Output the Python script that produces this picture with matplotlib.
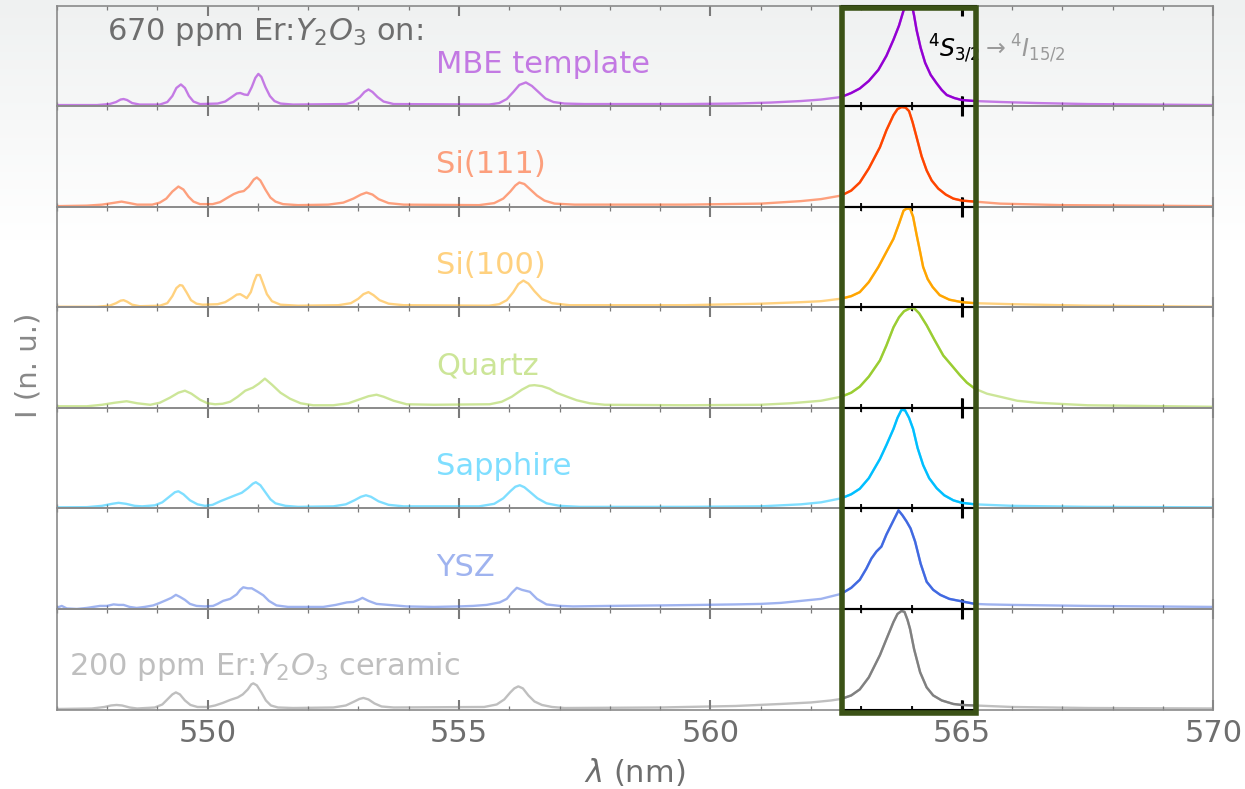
import numpy as np
import matplotlib
matplotlib.use("Agg")
import matplotlib.pyplot as plt
from matplotlib.patches import Rectangle
from matplotlib.ticker import MultipleLocator

# ---------------------------------------------------------------- data
labels = ["MBE template", "Si(111)", "Si(100)", "Quartz", "Sapphire", "YSZ",
          "200 ppm Er:$Y_2O_3$ ceramic"]
colors = ["darkviolet", "orangered", "orange", "yellowgreen", "deepskyblue",
          "royalblue", "gray"]

mbe_nm = [547.0, 547.8, 548.05, 548.18, 548.27, 548.33, 548.4, 548.5, 548.65,
          549.05, 549.2, 549.3, 549.38, 549.47, 549.55, 549.63, 549.72, 549.85,
          550.2, 550.35, 550.48, 550.58, 550.65, 550.73, 550.8, 550.88, 550.95, 551.01,
          551.07, 551.15, 551.24, 551.33, 551.45, 551.7,
          552.75, 552.9, 553.03, 553.12, 553.2, 553.28, 553.38, 553.5, 553.7,
          555.6, 555.8, 555.95, 556.08, 556.2, 556.33, 556.45, 556.58, 556.72, 556.88, 557.1,
          557.5, 559.5, 560.5, 561.2, 561.8, 562.2, 562.6, 562.8, 562.97, 563.15, 563.34,
          563.5, 563.64, 563.75, 563.84, 563.9, 564.0, 564.05, 564.1, 564.18, 564.27,
          564.38, 564.5, 564.6, 564.7, 564.85, 565.0, 565.26, 565.8, 566.5, 567.5, 570.0]
mbe_int = [0.01, 0.01, 0.02, 0.04, 0.065, 0.07, 0.06, 0.03, 0.015,
           0.015, 0.04, 0.1, 0.18, 0.215, 0.18, 0.1, 0.045, 0.02,
           0.025, 0.045, 0.09, 0.125, 0.13, 0.115, 0.11, 0.19, 0.28, 0.32,
           0.29, 0.19, 0.1, 0.05, 0.025, 0.015,
           0.02, 0.04, 0.09, 0.14, 0.165, 0.14, 0.09, 0.045, 0.02,
           0.015, 0.03, 0.07, 0.14, 0.21, 0.235, 0.2, 0.14, 0.075, 0.04, 0.025,
           0.02, 0.02, 0.025, 0.035, 0.05, 0.065, 0.09, 0.13, 0.175, 0.25, 0.36,
           0.5, 0.66, 0.8, 0.95, 1.02, 1.02, 0.9, 0.755, 0.58, 0.43,
           0.31, 0.225, 0.16, 0.11, 0.08, 0.06, 0.05, 0.04, 0.03, 0.02, 0.01]

si111_nm = [547.0, 547.6, 547.9, 548.1, 548.29, 548.45, 548.6, 548.9,
            549.05, 549.18, 549.3, 549.42, 549.52, 549.62, 549.72, 549.85,
            550.1, 550.25, 550.4, 550.52, 550.62, 550.72, 550.82, 550.92, 550.98, 551.05,
            551.15, 551.25, 551.35, 551.5, 551.8,
            552.4, 552.7, 552.9, 553.05, 553.16, 553.28, 553.4, 553.6, 553.9,
            555.4, 555.7, 555.88, 556.02, 556.12, 556.2, 556.3, 556.42, 556.55, 556.7,
            556.9, 557.3, 559.5, 561.0, 561.8, 562.2, 562.6, 562.8, 562.97, 563.15,
            563.37, 563.5, 563.64, 563.72, 563.8, 563.88, 563.95, 564.02, 564.1, 564.2,
            564.3, 564.4, 564.53, 564.68, 564.83, 565.0, 565.26, 565.76, 567.0, 570.0]
si111_int = [0.005, 0.01, 0.02, 0.035, 0.05, 0.035, 0.02, 0.02,
             0.04, 0.08, 0.15, 0.2, 0.17, 0.1, 0.05, 0.025,
             0.025, 0.045, 0.09, 0.125, 0.145, 0.155, 0.2, 0.27, 0.29, 0.26,
             0.17, 0.09, 0.05, 0.025, 0.015,
             0.02, 0.04, 0.08, 0.12, 0.14, 0.12, 0.075, 0.035, 0.02,
             0.015, 0.035, 0.08, 0.15, 0.21, 0.24, 0.225, 0.17, 0.11, 0.06,
             0.03, 0.02, 0.02, 0.03, 0.055, 0.075, 0.11, 0.16, 0.24, 0.38,
             0.59, 0.76, 0.91, 0.97, 0.99, 0.985, 0.95, 0.84, 0.69, 0.5,
             0.36, 0.26, 0.18, 0.12, 0.08, 0.06, 0.05, 0.03, 0.015, 0.005]

si100_nm = [547.0, 547.8, 548.05, 548.18, 548.27, 548.33, 548.4, 548.5, 548.65,
            549.05, 549.2, 549.3, 549.38, 549.45, 549.5, 549.58, 549.67, 549.78, 549.9,
            550.2, 550.35, 550.48, 550.58, 550.65, 550.72, 550.78, 550.86, 550.93, 550.98,
            551.04, 551.1, 551.18, 551.28, 551.45, 551.8,
            552.6, 552.85, 553.0, 553.1, 553.2, 553.3, 553.42, 553.6, 553.9,
            555.6, 555.8, 555.95, 556.08, 556.18, 556.28, 556.38, 556.5, 556.65, 556.85, 557.2,
            559.5, 561.0, 561.8, 562.2, 562.6, 562.8, 562.97, 563.15, 563.34, 563.5,
            563.64, 563.75, 563.84, 563.9, 563.97, 564.03, 564.1, 564.17, 564.23, 564.32,
            564.42, 564.56, 564.75, 565.0, 565.26, 566.0, 567.5, 570.0]
si100_int = [0.005, 0.005, 0.015, 0.04, 0.065, 0.07, 0.055, 0.025, 0.01,
             0.015, 0.04, 0.11, 0.19, 0.22, 0.215, 0.15, 0.07, 0.035, 0.025,
             0.03, 0.05, 0.09, 0.125, 0.13, 0.11, 0.09, 0.15, 0.26, 0.32,
             0.32, 0.24, 0.13, 0.06, 0.025, 0.015,
             0.02, 0.04, 0.085, 0.13, 0.15, 0.12, 0.07, 0.035, 0.02,
             0.015, 0.03, 0.07, 0.15, 0.23, 0.265, 0.235, 0.16, 0.08, 0.04, 0.02,
             0.02, 0.035, 0.05, 0.06, 0.085, 0.11, 0.15, 0.25, 0.4, 0.55,
             0.68, 0.83, 0.96, 0.98, 0.98, 0.9, 0.72, 0.55, 0.4, 0.28,
             0.2, 0.12, 0.075, 0.05, 0.04, 0.03, 0.015, 0.005]

quartz_nm = [547.0, 547.6, 547.9, 548.15, 548.39, 548.6, 548.86, 549.05, 549.25, 549.42,
             549.55, 549.68, 549.85, 550.0, 550.15, 550.3, 550.45, 550.6, 550.75, 550.9,
             551.02, 551.14, 551.28, 551.45, 551.64, 551.85, 552.1, 552.5, 552.8, 553.0,
             553.2, 553.36, 553.5, 553.7, 553.96, 554.5, 555.61, 555.85, 556.05, 556.25,
             556.4, 556.5, 556.65, 556.8, 556.94, 557.15, 557.34, 557.6, 557.9,
             559.5, 561.0, 561.6, 562.2, 562.6, 562.8, 562.97, 563.15, 563.37, 563.5,
             563.64, 563.75, 563.85, 563.97, 564.05, 564.15, 564.3, 564.45, 564.63, 564.8,
             564.96, 565.1, 565.26, 565.5, 565.76, 566.1, 566.5, 567.5, 570.0]
quartz_int = [0.015, 0.015, 0.03, 0.05, 0.065, 0.045, 0.03, 0.05, 0.1, 0.15,
              0.17, 0.14, 0.08, 0.045, 0.035, 0.04, 0.06, 0.11, 0.17, 0.2,
              0.24, 0.29, 0.23, 0.15, 0.09, 0.045, 0.025, 0.025, 0.045, 0.08,
              0.115, 0.13, 0.11, 0.07, 0.035, 0.03, 0.035, 0.06, 0.11, 0.18,
              0.22, 0.225, 0.215, 0.19, 0.15, 0.11, 0.075, 0.045, 0.03,
              0.025, 0.03, 0.045, 0.07, 0.11, 0.15, 0.21, 0.31, 0.47, 0.62,
              0.8, 0.9, 0.96, 0.99, 0.99, 0.94, 0.82, 0.68, 0.52, 0.42,
              0.325, 0.25, 0.19, 0.14, 0.11, 0.07, 0.05, 0.025, 0.01]

sapphire_nm = [547.0, 547.6, 547.9, 548.1, 548.23, 548.38, 548.55, 548.7, 548.95, 549.1,
               549.25, 549.35, 549.42, 549.52, 549.65, 549.8, 549.95, 550.1, 550.25, 550.4,
               550.55, 550.68, 550.8, 550.9, 550.96, 551.05, 551.15, 551.25, 551.35, 551.55,
               551.8, 552.5, 552.75, 552.92, 553.05, 553.15, 553.25, 553.4, 553.6, 553.9,
               555.4, 555.7, 555.88, 556.02, 556.12, 556.21, 556.3, 556.42, 556.56, 556.74,
               557.0, 557.4, 559.5, 561.0, 561.8, 562.2, 562.6, 562.8, 562.97, 563.15,
               563.37, 563.5, 563.64, 563.72, 563.8, 563.87, 563.95, 564.03, 564.12, 564.23,
               564.35, 564.5, 564.65, 564.83, 565.0, 565.26, 566.0, 567.5, 570.0]
sapphire_int = [0.01, 0.012, 0.025, 0.045, 0.055, 0.045, 0.025, 0.02, 0.03, 0.06,
                0.12, 0.16, 0.17, 0.14, 0.08, 0.04, 0.025, 0.035, 0.07, 0.1,
                0.13, 0.155, 0.2, 0.245, 0.26, 0.23, 0.16, 0.09, 0.05, 0.025,
                0.015, 0.02, 0.04, 0.08, 0.115, 0.13, 0.115, 0.07, 0.035, 0.02,
                0.02, 0.045, 0.1, 0.17, 0.215, 0.23, 0.21, 0.16, 0.1, 0.05,
                0.025, 0.015, 0.015, 0.02, 0.04, 0.06, 0.1, 0.14, 0.195, 0.3,
                0.49, 0.63, 0.79, 0.9, 0.98, 0.975, 0.9, 0.79, 0.6, 0.43,
                0.3, 0.2, 0.13, 0.08, 0.055, 0.04, 0.025, 0.015, 0.01]

ysz_nm = [547.0, 547.1, 547.2, 547.4, 547.6, 547.86, 548.0, 548.13, 548.23, 548.33,
          548.45, 548.59, 548.75, 548.92, 549.05, 549.19, 549.28, 549.37, 549.45, 549.55,
          549.65, 549.78, 549.95, 550.11, 550.2, 550.31, 550.45, 550.58, 550.65, 550.71,
          550.8, 550.88, 551.0, 551.11, 551.22, 551.37, 551.6, 551.8, 552.3, 552.55,
          552.77, 552.9, 553.0, 553.08, 553.2, 553.36, 553.6, 553.96, 554.5, 555.0,
          555.28, 555.55, 555.81, 555.95, 556.05, 556.15, 556.25, 556.41, 556.55, 556.74,
          557.0, 557.27, 558.0, 559.0, 559.8, 560.5, 561.0, 561.4, 561.8, 562.2,
          562.6, 562.8, 562.97, 563.1, 563.2, 563.3, 563.4, 563.5, 563.62, 563.74,
          563.82, 563.9, 563.98, 564.07, 564.18, 564.3, 564.43, 564.57, 564.75, 565.0,
          565.26, 565.5, 566.0, 567.5, 570.0]
ysz_int = [0.01, 0.03, 0.005, 0.0, 0.01, 0.03, 0.03, 0.045, 0.04, 0.04,
           0.02, 0.01, 0.02, 0.035, 0.06, 0.09, 0.11, 0.14, 0.12, 0.09,
           0.05, 0.03, 0.025, 0.03, 0.05, 0.08, 0.1, 0.145, 0.19, 0.215,
           0.205, 0.205, 0.17, 0.135, 0.08, 0.035, 0.02, 0.02, 0.02, 0.04,
           0.065, 0.07, 0.09, 0.11, 0.08, 0.05, 0.04, 0.025, 0.02, 0.025,
           0.03, 0.04, 0.065, 0.1, 0.16, 0.21, 0.19, 0.17, 0.1, 0.045,
           0.03, 0.025, 0.03, 0.035, 0.04, 0.045, 0.05, 0.06, 0.08, 0.1,
           0.15, 0.21, 0.29, 0.4, 0.5, 0.57, 0.62, 0.74, 0.86, 0.98,
           0.93, 0.87, 0.8, 0.67, 0.45, 0.27, 0.19, 0.14, 0.1, 0.075,
           0.05, 0.045, 0.04, 0.03, 0.02]

ceramic_nm = [547.0, 547.7, 547.95, 548.08, 548.19, 548.3, 548.45, 548.6, 548.95, 549.1,
              549.22, 549.3, 549.37, 549.45, 549.55, 549.66, 549.8, 550.0, 550.15, 550.3,
              550.45, 550.6, 550.7, 550.8, 550.87, 550.91, 550.98, 551.07, 551.16, 551.26,
              551.4, 551.7, 552.5, 552.75, 552.92, 553.02, 553.1, 553.2, 553.32, 553.46,
              553.7, 555.5, 555.75, 555.9, 556.02, 556.1, 556.18, 556.27, 556.38, 556.5,
              556.65, 556.85, 557.1, 559.0, 560.5, 561.4, 562.0, 562.4, 562.6, 562.8,
              562.97, 563.15, 563.37, 563.5, 563.64, 563.72, 563.8, 563.86, 563.92, 563.97,
              564.05, 564.17, 564.3, 564.43, 564.6, 564.83, 565.0, 565.26, 566.0, 567.5, 570.0]
ceramic_int = [0.005, 0.01, 0.025, 0.04, 0.045, 0.04, 0.02, 0.01, 0.02, 0.05,
               0.11, 0.15, 0.17, 0.15, 0.09, 0.045, 0.025, 0.025, 0.04, 0.065,
               0.095, 0.12, 0.15, 0.2, 0.25, 0.26, 0.24, 0.17, 0.09, 0.04,
               0.02, 0.015, 0.02, 0.04, 0.08, 0.105, 0.115, 0.1, 0.06, 0.03,
               0.02, 0.025, 0.05, 0.1, 0.17, 0.21, 0.23, 0.21, 0.14, 0.08,
               0.045, 0.025, 0.015, 0.02, 0.035, 0.055, 0.07, 0.09, 0.105, 0.14,
               0.2, 0.32, 0.54, 0.7, 0.87, 0.95, 0.98, 0.97, 0.89, 0.8,
               0.6, 0.37, 0.22, 0.14, 0.09, 0.055, 0.045, 0.04, 0.025, 0.015, 0.01]

spectra = [(mbe_nm, mbe_int), (si111_nm, si111_int), (si100_nm, si100_int),
           (quartz_nm, quartz_int), (sapphire_nm, sapphire_int),
           (ysz_nm, ysz_int), (ceramic_nm, ceramic_int)]

xticks_major = [550, 555, 560, 565, 570]

# ---------------------------------------------------------------- layout
XMIN, XMAX = 547.0, 570.0
BOX_NM = (562.62, 565.29)          # highlighted 4S3/2 -> 4I15/2 window
FW, FH = 1245, 789
L, R = 56.7 / FW, 1213.3 / FW
T, B = 1 - 5.5 / FH, 1 - 709.5 / FH
n = len(spectra)
h = (T - B) / n

GRAY_SPINE = "#8a8a8a"
GRAY_TEXT = "#6e6e6e"

fig = plt.figure(figsize=(FW / 100, FH / 100), dpi=100)
fig.patch.set_facecolor("white")

# soft grey fade at the top of the canvas
bg = fig.add_axes([0, 0, 1, 1], zorder=-10)
rows = np.arange(FH)
t = np.clip(rows / 240.0, 0, 1)
top_rgb = np.array([239, 241, 241]) / 255.0
img = top_rgb[None, :] * (1 - t[:, None]) + np.ones(3)[None, :] * t[:, None]
bg.imshow(img[:, None, :], aspect="auto", extent=[0, 1, 0, 1], origin="upper")
bg.set_axis_off()


def x_to_fig(x):
    return L + (x - XMIN) / (XMAX - XMIN) * (R - L)


bx0, bx1 = x_to_fig(BOX_NM[0]), x_to_fig(BOX_NM[1])

main_axes, zoom_axes = [], []
for i, ((xs, ys), lab, col) in enumerate(zip(spectra, labels, colors)):
    y0 = T - (i + 1) * h
    ax = fig.add_axes([L, y0, R - L, h], zorder=0)
    ax.patch.set_alpha(0)
    ax.plot(xs, ys, color=col, alpha=0.5, lw=1.7, solid_joinstyle="round")
    ax.set_xlim(XMIN, XMAX)
    ax.set_ylim(0, 1)
    ax.set_yticks([])
    ax.set_xticks(xticks_major)
    ax.xaxis.set_minor_locator(MultipleLocator(1))
    ax.tick_params(axis="x", which="major", direction="in", length=7, width=1.5,
                   color="#7a7a7a", top=True, bottom=True,
                   labelbottom=(i == n - 1), labelsize=22, labelcolor=GRAY_TEXT, pad=7)
    ax.tick_params(axis="x", which="minor", direction="in", length=2.6, width=0.9,
                   color="#7a7a7a", top=True, bottom=True)
    for sp in ax.spines.values():
        sp.set_color(GRAY_SPINE)
        sp.set_linewidth(1.2)
    main_axes.append(ax)

    # highlighted window over the main transition
    zx = fig.add_axes([bx0, y0, bx1 - bx0, h], zorder=1)
    zx.patch.set_alpha(0)
    zx.plot(xs, ys, color=col, lw=1.7, solid_joinstyle="round")
    zx.set_xlim(*BOX_NM)
    zx.set_ylim(0, 1)
    zx.set_yticks([])
    zx.xaxis.set_major_locator(MultipleLocator(5))
    zx.xaxis.set_minor_locator(MultipleLocator(1))
    zx.tick_params(axis="x", which="major", direction="in", length=7, width=2.2,
                   color="black", top=True, bottom=True, labelbottom=False)
    zx.tick_params(axis="x", which="minor", direction="in", length=3, width=1.3,
                   color="black", top=True, bottom=True)
    zx.spines["left"].set_visible(False)
    zx.spines["right"].set_visible(False)
    for side in ("top", "bottom"):
        zx.spines[side].set_color("black")
        zx.spines[side].set_linewidth(1.5)
    zoom_axes.append(zx)

    if i < n - 1:
        ax.text(554.55, 0.33, lab, color=col, alpha=0.5, fontsize=22,
                va="baseline", ha="left", transform=ax.get_xaxis_transform())
    else:
        ax.text(547.24, 0.345, lab, color=col, alpha=0.5, fontsize=22,
                va="baseline", ha="left", transform=ax.get_xaxis_transform())

# heading in the top panel
top = main_axes[0]
top.text(548.0, 0.656, "670 ppm Er:$Y_2O_3$ on:", color=GRAY_TEXT, fontsize=22,
         va="baseline", ha="left", transform=top.get_xaxis_transform())

# transition label: grey overall, black where it lies inside the window
trans = r"${}^4S_{3/2} \rightarrow {}^4I_{15/2}$"
top.text(564.33, 0.487, trans, color="#9a9a9a", fontsize=17, va="baseline",
         ha="left", transform=top.get_xaxis_transform())
zoom_axes[0].text(564.33, 0.487, trans, color="black", fontsize=17, va="baseline",
                  ha="left", transform=zoom_axes[0].get_xaxis_transform(), clip_on=True)

# window frame
fig.add_artist(Rectangle((bx0, 1 - 712.5 / FH), bx1 - bx0, (712.5 - 8) / FH,
                         transform=fig.transFigure, fill=False,
                         edgecolor="#3b5216", lw=4.0, zorder=5))

fig.text((L + R) / 2, 1 - 772 / FH, r"$\lambda$ (nm)", ha="center", va="center",
         fontsize=22, color=GRAY_TEXT)
fig.text(28.5 / FW, 1 - 365 / FH, "I (n. u.)", rotation=90, ha="center",
         va="center", fontsize=21, color="#888888")

fig.savefig("out.png", dpi=100)
